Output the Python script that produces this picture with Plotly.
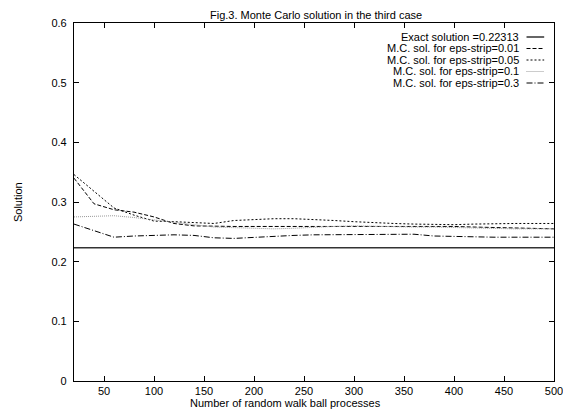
import plotly.graph_objects as go

# number of random walk ball processes
walks = [20, 40, 60, 80, 100, 120, 140, 160, 180, 200, 220, 240, 260,
         280, 300, 320, 340, 360, 380, 400, 420, 440, 460, 480, 500]

exact = 0.22313
mc_001 = [0.340, 0.297, 0.287, 0.283, 0.275, 0.264, 0.260, 0.259, 0.259, 0.259, 0.259, 0.259, 0.260,
          0.260, 0.260, 0.260, 0.259, 0.259, 0.259, 0.259, 0.258, 0.257, 0.256, 0.255, 0.255]
mc_005 = [0.346, 0.318, 0.290, 0.278, 0.268, 0.267, 0.265, 0.264, 0.269, 0.271, 0.272, 0.272, 0.271,
          0.269, 0.267, 0.265, 0.264, 0.263, 0.262, 0.262, 0.263, 0.264, 0.264, 0.264, 0.264]
mc_01 = [0.275, 0.276, 0.277, 0.274, 0.270, 0.265, 0.261, 0.258, 0.257, 0.256, 0.255, 0.256, 0.258,
         0.259, 0.260, 0.259, 0.259, 0.258, 0.258, 0.257, 0.257, 0.256, 0.255, 0.255, 0.255]
mc_03 = [0.263, 0.252, 0.241, 0.243, 0.244, 0.245, 0.244, 0.240, 0.239, 0.241, 0.242, 0.244, 0.245,
         0.245, 0.246, 0.246, 0.246, 0.246, 0.243, 0.242, 0.242, 0.241, 0.241, 0.241, 0.241]

labels = ["Exact solution =0.22313",
          "M.C. sol. for eps-strip=0.01",
          "M.C. sol. for eps-strip=0.05",
          "M.C. sol. for eps-strip=0.1",
          "M.C. sol. for eps-strip=0.3"]

xticks = [50, 100, 150, 200, 250, 300, 350, 400, 450, 500]
yticks = [0, 0.1, 0.2, 0.3, 0.4, 0.5, 0.6]

# the page body has an 8px margin, so the figure is shrunk by that much
OFF = 8
W, H = 571 - OFF, 412 - OFF
L, R, T, B = 74 - OFF, 8, 23 - OFF, 31
FONT = "Liberation Sans, Arial, sans-serif"

styles = [dict(color="#333333", width=1.5, dash="solid"),
          dict(color="black", width=1, dash="4px,2px"),
          dict(color="black", width=1, dash="2px,2px"),
          dict(color="#999999", width=1, dash="1px,1px"),
          dict(color="black", width=1, dash="6px,2px,1px,2px")]


# positions below are given in screen pixels of the reference picture
def px(x):
    return (x - OFF - L) / (W - L - R)


def py(y):
    return 1 - (y - OFF - T) / (H - T - B)


fig = go.Figure()
fig.add_trace(go.Scatter(x=[walks[0], walks[-1]], y=[exact, exact], mode="lines", line=styles[0]))
for ys, st in zip([mc_001, mc_005, mc_01, mc_03], styles[1:]):
    fig.add_trace(go.Scatter(x=walks, y=ys, mode="lines", line=st))

# legend drawn by hand: text on the left, sample on the right
row_y = [37, 48.5, 60, 71.5, 83]
for lab, st, ry in zip(labels, styles, row_y):
    fig.add_annotation(x=px(529), y=py(ry), xref="paper", yref="paper", text=lab,
                       showarrow=False, xanchor="right", yanchor="middle",
                       font=dict(size=11, color="black", family=FONT))
    fig.add_shape(type="line", xref="paper", yref="paper",
                  x0=px(535), x1=px(553), y0=py(ry), y1=py(ry), line=st)

fig.add_annotation(x=px(321), y=py(8), xref="paper", yref="paper",
                   text="Fig.3. Monte Carlo solution in the third case", showarrow=False,
                   xanchor="center", yanchor="top", borderpad=0,
                   font=dict(size=11, color="black", family=FONT))
fig.add_annotation(x=px(289), y=py(403), xref="paper", yref="paper",
                   text="Number of random walk ball processes", showarrow=False,
                   xanchor="center", yanchor="middle", font=dict(size=11, color="black", family=FONT))
fig.add_annotation(x=px(17), y=py(202), xref="paper", yref="paper", text="Solution",
                   textangle=-90, showarrow=False, xanchor="center", yanchor="middle",
                   font=dict(size=11, color="black", family=FONT))

axis_common = dict(showline=True, linecolor="black", linewidth=1.2, mirror="ticks",
                   ticks="inside", ticklen=5, tickcolor="black", tickwidth=1,
                   showgrid=False, zeroline=False, ticklabeloverflow="allow",
                   tickfont=dict(size=11, color="black", family=FONT))
fig.update_xaxes(range=[20, 500], tickvals=xticks, **axis_common)
fig.update_yaxes(range=[0, 0.6], tickvals=yticks, ticklabelstandoff=4, **axis_common)

fig.update_layout(width=W, height=H, showlegend=False,
                  margin=dict(l=L, r=R, t=T, b=B),
                  plot_bgcolor="white", paper_bgcolor="white")

fig.write_html("out.html")
